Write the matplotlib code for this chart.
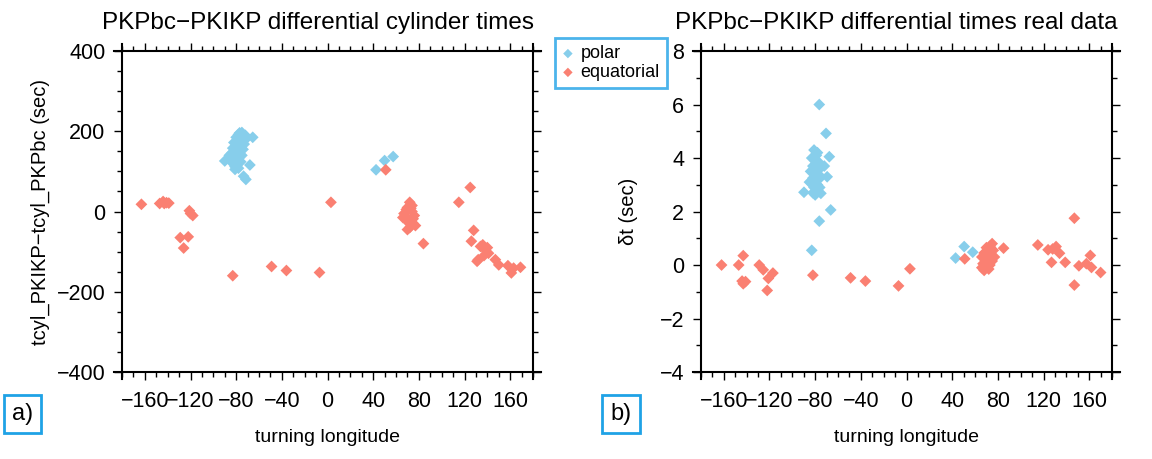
import matplotlib
matplotlib.use('Agg')
import matplotlib.pyplot as plt
from matplotlib.ticker import MultipleLocator, FuncFormatter

plt.rcParams['font.family'] = ['Liberation Sans', 'DejaVu Sans']

# ---- panel a) cylinder times ----
polar_lon_a = [-75, -78, -72, -80, -76, -73, -79, -75, -82, -77, -73, -80, -76, -83, -78,
               -74, -81, -77, -84, -79, -75, -82, -78, -85, -80, -76, -83, -79, -81, -78,
               -71, -74, -77, -86, -90, -65.5, -68, -71.5, -73.5, -81,
               42.5, 50, 57.5]
polar_dt_a = [197, 192, 190, 185, 186, 182, 178, 176, 172, 170, 168, 164, 162, 158, 155,
              155, 150, 146, 145, 140, 140, 135, 132, 130, 126, 124, 120, 118, 112, 108,
              182, 175, 196, 140, 126, 185, 116, 80, 88, 105,
              104, 127, 137]

equ_lon_a = [-163, -147, -144, -141, -143, -139, -121, -118, -120, -129, -122, -126,
             -83, -49, -36, -7, 3, 51,
             72, 74, 70, 67, 68, 70, 73, 76, 75, 72, 70, 77, 74, 69, 75, 71, 73, 66,
             84, 115, 125, 128, 126, 134, 138, 141, 136, 132, 131, 140, 137,
             147, 150, 158, 161, 163, 169]
equ_dt_a = [18, 20, 25, 22, 20, 21, 2, -10, -5, -65, -63, -91,
            -160, -137, -147, -152, 23, 104,
            23, 15, 10, -5, -12, -20, -25, -10, -30, -40, -45, -35, 0, 5, -18, -28, 8, -15,
            -80, 23, 60, -47, -74, -87, -95, -104, -83, -120, -124, -90, -110,
            -120, -133, -135, -153, -141, -139]

# ---- panel b) real data ----
polar_lon_b = [-76.4, -70.5, -67.6, -66.4, -76.4, -83, -89.8,
               -81, -79, -83, -80, -77, -82, -79, -76, -84, -80, -78, -82, -75, -80,
               -83, -78, -81, -76, -79, -82, -75, -80, -72, -69.5, -78, -77, -85,
               43, 50.5, 58]
polar_dt_b = [6.0, 4.92, 4.05, 2.06, 1.64, 0.55, 2.72,
              4.3, 4.1, 4.0, 3.9, 3.85, 3.7, 3.6, 3.6, 3.5, 3.45, 3.35, 3.25, 3.3, 3.15,
              3.05, 3.0, 2.9, 2.9, 2.8, 2.7, 2.68, 2.62, 3.7, 3.3, 4.2, 3.2, 3.1,
              0.26, 0.69, 0.48]

equ_lon_b = [-162, -147, -143, -144, -141, -143, -129, -125.5, -121, -117, -122,
             -82, -49, -36, -7, 3, 51,
             75, 73, 70, 76, 72, 68, 74, 70, 66, 73, 69, 75, 71, 67, 73, 70, 66, 72, 68, 77, 74,
             85, 115, 124, 131, 134, 128, 127, 139, 147, 147, 151, 157.5, 162, 161, 170]
equ_dt_b = [0.0, 0.0, 0.35, -0.6, -0.62, -0.7, 0.0, -0.18, -0.5, -0.3, -0.95,
            -0.38, -0.48, -0.6, -0.78, -0.14, 0.23,
            0.8, 0.7, 0.65, 0.55, 0.5, 0.45, 0.4, 0.35, 0.3, 0.25, 0.2, 0.15, 0.1, 0.05,
            0.0, -0.05, -0.1, -0.15, -0.2, 0.3, 0.6,
            0.63, 0.75, 0.57, 0.69, 0.44, 0.6, 0.1, 0.1, 1.75, -0.75, -0.03, 0.05, -0.09, 0.36, -0.28]

xticks = [-160, -120, -80, -40, 0, 40, 80, 120, 160]

blue = '#87ceeb'
red = '#fa8072'
box_col = '#1fa2e6'

minus_fmt = FuncFormatter(lambda v, p: f'{int(v)}'.replace('-', '\u2212'))

fig = plt.figure(figsize=(11.52, 4.59), dpi=100)
ax1 = fig.add_axes([0.1059, 0.1895, 0.3568, 0.6993])
ax2 = fig.add_axes([0.6085, 0.1895, 0.3568, 0.6993])


def style(ax, ylim, ymaj, ymin, yext):
    ax.set_xlim(-180, 180)
    ax.set_ylim(*ylim)
    ax.set_xticks(xticks)
    ax.xaxis.set_minor_locator(MultipleLocator(10))
    ax.yaxis.set_major_locator(MultipleLocator(ymaj))
    ax.yaxis.set_minor_locator(MultipleLocator(ymin))
    ax.tick_params(which='both', direction='out', top=True, right=True,
                   width=1.0, labelsize=15.5)
    ax.tick_params(which='major', length=6)
    ax.tick_params(which='minor', length=3.5)
    ax.tick_params(axis='x', pad=8)
    ax.tick_params(axis='y', pad=6)
    for s in ax.spines.values():
        s.set_linewidth(1.5)
    # GMT-like crossing frame corners
    ax.spines['top'].set_bounds(-187, 187)
    ax.spines['bottom'].set_bounds(-187, 187)
    ax.spines['left'].set_bounds(ylim[0] - yext, ylim[1] + yext)
    ax.spines['right'].set_bounds(ylim[0] - yext, ylim[1] + yext)
    ax.set_xlabel('turning longitude', fontsize=14, labelpad=12)
    ax.xaxis.set_major_formatter(minus_fmt)
    ax.yaxis.set_major_formatter(minus_fmt)


ax1.scatter(polar_lon_a, polar_dt_a, marker='D', s=36, color=blue, edgecolors='none', zorder=3)
ax1.scatter(equ_lon_a, equ_dt_a, marker='D', s=36, color=red, edgecolors='none', zorder=3)
style(ax1, (-400, 400), 200, 50, 18)
ax1.set_ylabel('tcyl_PKIKP\u2212tcyl_PKPbc (sec)', fontsize=14.5, labelpad=5)
ax1.text(0.476, 1.0685, 'PKPbc\u2212PKIKP differential cylinder times', transform=ax1.transAxes,
         ha='center', va='baseline', fontsize=17.5)

hp = ax2.scatter(polar_lon_b, polar_dt_b, marker='D', s=36, color=blue, edgecolors='none', zorder=3)
he = ax2.scatter(equ_lon_b, equ_dt_b, marker='D', s=36, color=red, edgecolors='none', zorder=3)
style(ax2, (-4, 8), 2, 1, 0.27)
ax2.set_ylabel('\u03b4t (sec)', fontsize=14.5, labelpad=16)
ax2.text(0.476, 1.0685, 'PKPbc\u2212PKIKP differential times real data', transform=ax2.transAxes,
         ha='center', va='baseline', fontsize=17.5)

leg = fig.legend([hp, he], ['polar', 'equatorial'], loc='upper left',
                 bbox_to_anchor=(0.482, 0.917), fontsize=13, frameon=True,
                 fancybox=False, handlelength=0.6, handletextpad=0.4,
                 borderpad=0.4, labelspacing=0.1, markerscale=0.8, borderaxespad=0)
leg.get_frame().set_edgecolor(box_col)
leg.get_frame().set_linewidth(2)

for x, lab in [(0.0195, 'a)'), (0.539, 'b)')]:
    fig.text(x, 0.098, lab, fontsize=17, ha='center', va='center',
             bbox=dict(boxstyle='square,pad=0.35', fc='white', ec=box_col, lw=2))

plt.savefig('out.png', dpi=100)
plt.close()
